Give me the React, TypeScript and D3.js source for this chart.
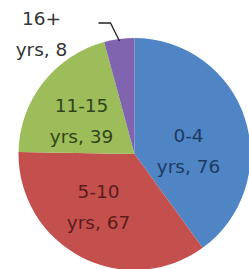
import { useEffect, useRef } from "react";
import * as d3 from "d3";

// data
const categories = ["0-4 yrs", "5-10 yrs", "11-15 yrs", "16+ yrs"];
const values = [76, 67, 39, 8];
const colors = ["#4F85C5", "#C4504D", "#9CBD5A", "#8064B0"];
const textColors = ["#1E3A62", "#5C1C1B", "#33441A", "#333333"];

// label block centres relative to the pie centre (first line baseline)
const labelPos = [
  [54, -12],
  [-36, 44],
  [-53, -42],
  [-93, -129],
];

function App() {
  const ref = useRef<SVGSVGElement>(null);

  useEffect(() => {
    const svg = d3.select(ref.current);
    svg.selectAll("*").remove();

    const cx = 134.5, cy = 154, r = 116;
    const lineGap = 31;

    const pie = d3.pie<number>().sort(null).startAngle(0).endAngle(2 * Math.PI);
    const arcs = pie(values);
    const arc = d3.arc<d3.PieArcDatum<number>>().innerRadius(0).outerRadius(r);

    const g = svg.append("g").attr("transform", `translate(${cx},${cy})`);

    g.selectAll("path.slice")
      .data(arcs)
      .join("path")
      .attr("class", "slice")
      .attr("d", arc)
      .attr("fill", (d, i) => colors[i]);

    // leader line for the small slice
    const small = arcs[3];
    const mid = (small.startAngle + small.endAngle) / 2;
    const ex = Math.sin(mid) * (r - 2);
    const ey = -Math.cos(mid) * (r - 2);
    g.append("path")
      .attr("d", `M${ex},${ey}L${ex - 9},${ey - 18}L${ex - 21},${ey - 18}`)
      .attr("fill", "none")
      .attr("stroke", "#222")
      .attr("stroke-width", 1.3);

    const labels = g.selectAll("text.lbl")
      .data(arcs)
      .join("text")
      .attr("class", "lbl")
      .attr("text-anchor", "middle")
      .attr("font-family", "DejaVu Sans, sans-serif")
      .attr("font-size", 18.5)
      .attr("fill", (d, i) => textColors[i])
      .attr("transform", (d, i) => `translate(${labelPos[i][0]},${labelPos[i][1]})`);

    labels.each(function (d, i) {
      const [range, unit] = categories[i].split(" ");
      const t = d3.select(this);
      t.append("tspan").attr("x", 0).attr("y", 0).text(range);
      t.append("tspan").attr("x", 0).attr("y", lineGap).text(`${unit}, ${values[i]}`);
    });
  }, []);

  return (
    <svg
      ref={ref}
      width={249}
      height={269}
      style={{ position: "absolute", left: 0, top: 0, background: "#fff" }}
    />
  );
}

export default App;
